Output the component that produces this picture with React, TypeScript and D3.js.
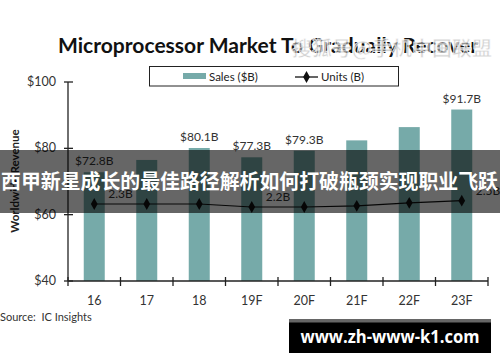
import React from "react";
import * as d3 from "d3";

const categories = ["16", "17", "18", "19F", "20F", "21F", "22F", "23F"];
const sales = [72.8, 76.5, 80.1, 77.3, 79.3, 82.4, 86.4, 91.7];
const salesLabels = ["$72.8B", "", "$80.1B", "$77.3B", "$79.3B", "", "", "$91.7B"];
const units = [2.3, 2.3, 2.3, 2.2, 2.2, 2.24, 2.34, 2.41];
const unitLabels = ["2.3B", "", "", "2.2B", "", "", "", "2.5B"];
const yTicks = [40, 60, 80, 100];

const W = 500;
const H = 362;
const TEAL = "#76aaa9";
const FONT = "Lato, 'Open Sans', sans-serif";

export default function App() {
  const x = d3.scaleBand<string>().domain(categories).range([68, 488]).paddingInner(0).paddingOuter(0);
  const y = d3.scaleLinear().domain([40, 100]).range([281, 82]);
  const yU = d3.scaleLinear().domain([0, 6]).range([273, 93]);
  const bw = x.bandwidth() * 0.4;
  const cx = (c: string) => (x(c) as number) + x.bandwidth() / 2;
  const line = d3
    .line<number>()
    .x((_, i) => cx(categories[i]))
    .y((d) => yU(d));
  const diamond = d3.symbol().type(d3.symbolDiamond).size(40)() as string;

  return (
    <svg
      width={W}
      height={H}
      style={{ position: "absolute", left: 0, top: 0, background: "#fff" }}
      fontFamily={FONT}
    >
      <rect x={0} y={0} width={W} height={H} fill="#fff" />
      <text x={268} y={53} textAnchor="middle" fontSize={20.5} fontWeight="bold" fill="#111" textLength={420} lengthAdjust="spacingAndGlyphs">
        Microprocessor Market To Gradually Recover
      </text>
      {/* legend */}
      <rect x={149.5} y={66.5} width={249} height={19.5} fill="#fff" stroke="#222" strokeWidth={1} />
      <rect x={183} y={73} width={23} height={6} fill={TEAL} />
      <text x={209} y={80.5} fontSize={11.5} fill="#222">Sales ($B)</text>
      <line x1={295} x2={318} y1={77} y2={77} stroke="#111" strokeWidth={1.3} />
      <path d={diamond} transform="translate(306.5,77)" fill="#111" />
      <text x={321} y={80.5} fontSize={11.5} fill="#222">Units (B)</text>

      {/* bars */}
      {categories.map((c, i) => (
        <rect key={c} x={cx(c) - bw / 2} y={y(sales[i])} width={bw} height={281 - y(sales[i])} fill={TEAL} />
      ))}
      {categories.map((c, i) =>
        salesLabels[i] ? (
          <text key={c} x={cx(c)} y={y(sales[i]) - 7} textAnchor="middle" fontSize={12} fill="#333">
            {salesLabels[i]}
          </text>
        ) : null
      )}

      {/* axes */}
      <line x1={68} x2={68} y1={82} y2={281} stroke="#222" strokeWidth={1.3} />
      <line x1={68} x2={488} y1={281} y2={281} stroke="#222" strokeWidth={1.3} />
      {yTicks.map((t) => (
        <g key={t}>
          <line x1={64} x2={73} y1={y(t)} y2={y(t)} stroke="#222" strokeWidth={1.3} />
          <text x={56} y={y(t) + 4} textAnchor="end" fontSize={12.5} fill="#333">
            ${t}
          </text>
        </g>
      ))}
      {categories.map((c) => (
        <line key={c} x1={(x(c) as number) + x.bandwidth()} x2={(x(c) as number) + x.bandwidth()} y1={277} y2={286} stroke="#222" strokeWidth={1.3} />
      ))}
      <line x1={68} x2={68} y1={277} y2={286} stroke="#222" strokeWidth={1.3} />
      {categories.map((c) => (
        <text key={c} x={cx(c)} y={304.5} textAnchor="middle" fontSize={12.5} fill="#333">
          {c}
        </text>
      ))}
      <text
        transform="translate(19,181) rotate(-90)"
        textAnchor="middle"
        fontSize={11.5}
        fontWeight="bold"
        fill="#222"
      >
        Worldwide Revenue
      </text>
      <text x={0} y={320.5} fontSize={11} fill="#333">
        {"Source:\u00a0\u00a0IC Insights"}
      </text>

      {/* units line */}
      <path d={line(units) as string} fill="none" stroke="#111" strokeWidth={1.2} />
      {categories.map((c, i) => (
        <path key={c} d={diamond} transform={`translate(${cx(c)},${yU(units[i])})`} fill="#111" />
      ))}
      {categories.map((c, i) =>
        unitLabels[i] ? (
          <text key={c} x={cx(c) + 14} y={yU(units[i]) - 6} fontSize={12} fill="#333">
            {unitLabels[i]}
          </text>
        ) : null
      )}

      {/* watermark */}
      <text
        x={492}
        y={56}
        textAnchor="end"
        fontSize={20}
        fontFamily="'Noto Sans CJK SC', sans-serif"
        fontWeight="bold"
        fill="rgba(180,180,180,0.6)"
        stroke="rgba(255,255,255,0.8)"
        strokeWidth={1}
      >
        搜狐号@手机中国联盟
      </text>

      {/* overlay band */}
      <rect x={0} y={150} width={W} height={63} fill="rgba(0,0,0,0.6)" />
      <text
        x={1}
        y={189}
        fontSize={20}
        fontWeight="bold"
        fontFamily="'Noto Sans CJK SC', sans-serif"
        fill="#fff"
        textLength={497}
        lengthAdjust="spacingAndGlyphs"
      >
        西甲新星成长的最佳路径解析如何打破瓶颈实现职业飞跃
      </text>

      {/* url box */}
      <rect x={289} y={319} width={202} height={34} fill="#000" />
      <rect x={289} y={319} width={202} height={3.5} fill="#666" />
      <text
        x={390}
        y={343}
        textAnchor="middle"
        fontSize={18}
        fontWeight="bold"
        fontFamily="'Open Sans', sans-serif"
        fill="#fff"
        textLength={179}
        lengthAdjust="spacingAndGlyphs"
      >
        www.zh-www-k1.com
      </text>
    </svg>
  );
}
